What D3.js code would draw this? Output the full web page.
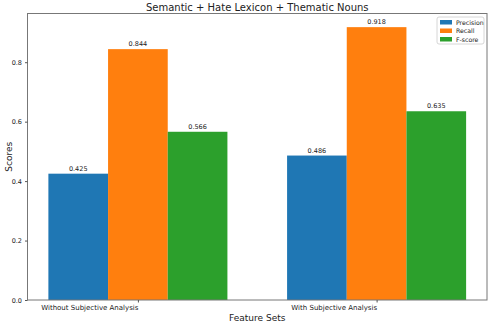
<!DOCTYPE html>
<html><head><meta charset="utf-8">
<script src="https://cdn.jsdelivr.net/npm/d3@7"></script>
<style>body{margin:0;background:#fff}svg{display:block;font-family:"DejaVu Sans",sans-serif}</style>
</head><body><svg id="c" width="490" height="326"></svg>
<script>
const categories = ["Without Subjective Analysis", "With Subjective Analysis"];
const seriesNames = ["Precision", "Recall", "F-score"];
const precision = [0.425, 0.486];
const recall = [0.844, 0.918];
const fscore = [0.566, 0.635];
const yTicks = [0.0, 0.2, 0.4, 0.6, 0.8];
const colors = ["#1f77b4", "#ff7f0e", "#2ca02c"];
const series = [precision, recall, fscore];

const svg = d3.select("#c");
const L = 27.5, R = 487, T = 13.5, B = 300;
const barW = 0.25;
const x = d3.scaleLinear().domain([-0.4625, 1.4625]).range([L, R]);
const y = d3.scaleLinear().domain([0, 0.9639]).range([B, T]);

// bars
series.forEach((vals, si) => {
  vals.forEach((v, ci) => {
    const x0 = ci + (si - 1) * barW - barW / 2;
    svg.append("rect").attr("x", x(x0)).attr("y", y(v))
      .attr("width", x(x0 + barW) - x(x0)).attr("height", y(0) - y(v))
      .attr("fill", colors[si]);
    svg.append("text").attr("x", x(x0 + barW / 2)).attr("y", y(v) - 3)
      .attr("text-anchor", "middle").attr("font-size", 6.5).attr("fill", "#222")
      .text(v.toFixed(3));
  });
});

// frame
svg.append("rect").attr("x", L).attr("y", T).attr("width", R - L).attr("height", B - T)
  .attr("fill", "none").attr("stroke", "#777").attr("stroke-width", 1);

// y axis
const ya = svg.append("g").attr("transform", `translate(${L},0)`)
  .call(d3.axisLeft(y).tickValues(yTicks).tickFormat(d3.format(".1f")).tickSize(2.5).tickPadding(3));
ya.select(".domain").remove();
ya.selectAll("line").attr("stroke", "#555");
ya.selectAll("text").attr("font-size", 6.5).attr("fill", "#222").attr("font-family", "DejaVu Sans");

// x axis
const xa = svg.append("g").attr("transform", `translate(0,${B})`)
  .call(d3.axisBottom(x).tickValues([0, 1]).tickFormat((d, i) => categories[i]).tickSize(2.5).tickPadding(3));
xa.select(".domain").remove();
xa.selectAll("line").attr("stroke", "#555");
xa.selectAll("text").attr("font-size", 7).attr("fill", "#222").attr("font-family", "DejaVu Sans")
  .attr("text-anchor", "end");

// labels
svg.append("text").attr("x", (L + R) / 2).attr("y", 11).attr("text-anchor", "middle")
  .attr("font-size", 10).attr("fill", "#222").text("Semantic + Hate Lexicon + Thematic Nouns");
svg.append("text").attr("x", (L + R) / 2).attr("y", 321).attr("text-anchor", "middle")
  .attr("font-size", 9).attr("fill", "#222").text("Feature Sets");
svg.append("text").attr("transform", `translate(12,${(T + B) / 2}) rotate(-90)`).attr("text-anchor", "middle")
  .attr("font-size", 9).attr("fill", "#222").text("Scores");

// legend
const lg = svg.append("g").attr("transform", "translate(437,17)");
lg.append("rect").attr("width", 47).attr("height", 27).attr("rx", 2)
  .attr("fill", "#fff").attr("fill-opacity", 0.8).attr("stroke", "#ccc").attr("stroke-width", 0.8);
seriesNames.forEach((n, i) => {
  lg.append("rect").attr("x", 3).attr("y", 3 + i * 8.5).attr("width", 12).attr("height", 4.5).attr("fill", colors[i]);
  lg.append("text").attr("x", 19).attr("y", 7.8 + i * 8.5).attr("font-size", 6.2).attr("fill", "#222").text(n);
});
</script></body></html>
